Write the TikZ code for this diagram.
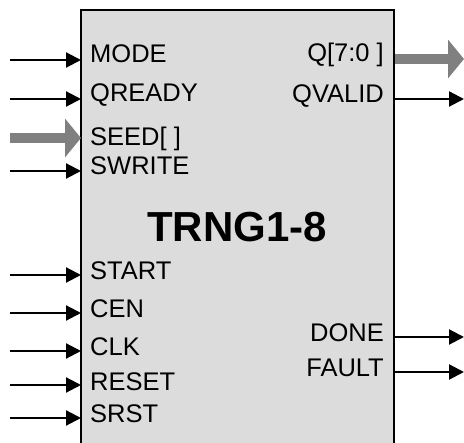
\documentclass[tikz,border=0pt]{standalone}
\usepackage{fontspec}
\setmainfont{Liberation Sans}
\usetikzlibrary{arrows.meta}
\definecolor{boxfill}{RGB}{220,220,220}
\definecolor{busgray}{RGB}{128,128,128}
\tikzset{
  sig/.style={line width=2.2pt,-{Triangle[length=15pt,width=15pt]}},
  bus/.style={line width=10pt,draw=busgray,-{Triangle[length=16pt,width=38pt,fill=busgray]}},
  lbl/.style={inner sep=0pt,font=\fontsize{25.5}{30}\selectfont},
  inl/.style={lbl,anchor=base west},
  outl/.style={lbl,anchor=base east},
}
\begin{document}
\begin{tikzpicture}[x=1pt,y=-1pt]
\useasboundingbox (0,0) rectangle (464,443);
% block
\fill[boxfill] (81,10) rectangle (394,450);
\draw[line width=2.5pt] (81,450) -- (81,10) -- (394,10) -- (394,450);
\node[inner sep=0pt,anchor=base,font=\fontsize{42}{48}\selectfont\bfseries] (title) at (237,242) {TRNG1-8};
% input labels
\node[inl] (lmode) at (90,63) {MODE};
\node[inl] (lqready) at (90,102) {QREADY};
\node[inl] (lseed) at (90,146) {SEED[ ]};
\node[inl] (lswrite) at (90,175) {SWRITE};
\node[inl] (lstart) at (90,280) {START};
\node[inl] (lcen) at (90,318) {CEN};
\node[inl] (lclk) at (90,356) {CLK};
\node[inl] (lreset) at (90,391) {RESET};
\node[inl] (lsrst) at (90,423) {SRST};
% output labels
\node[outl] (lq) at (384,62) {Q[7:0 ]};
\node[outl] (lqvalid) at (384,103) {QVALID};
\node[outl] (ldone) at (384,342) {DONE};
\node[outl] (lfault) at (384,377) {FAULT};
% input coordinates
\foreach \n/\y in {mode/60,qready/99,seed/138,swrite/171,start/275,cen/313,clk/351,reset/385,srst/418}{
  \coordinate (s\n) at (10,\y);
  \coordinate (e\n) at (81,\y);
}
\foreach \n in {mode,qready,swrite,start,cen,clk,reset,srst}{
  \draw[sig] (s\n) -- (e\n);
}
\draw[bus] (sseed) -- (eseed);
% outputs
\foreach \n/\y in {q/59,qvalid/99,done/337,fault/372}{
  \coordinate (o\n) at (395,\y);
  \coordinate (t\n) at (464,\y);
}
\draw[bus] (oq) -- (tq);
\foreach \n in {qvalid,done,fault}{
  \draw[sig] (o\n) -- (t\n);
}
\end{tikzpicture}
\end{document}
